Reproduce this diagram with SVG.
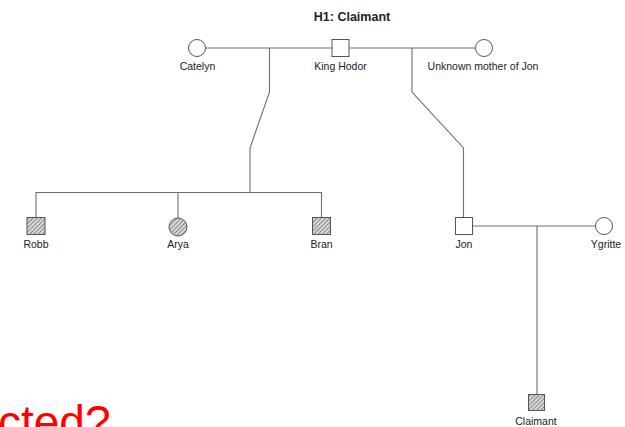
<svg xmlns="http://www.w3.org/2000/svg" width="625" height="427" viewBox="0 0 625 427">
<defs>
<pattern id="hatch" patternUnits="userSpaceOnUse" width="3" height="3" patternTransform="rotate(45)">
<rect width="3" height="3" fill="#d8d8d8"/>
<line x1="0" y1="0" x2="0" y2="3" stroke="#555" stroke-width="1.2"/>
</pattern>
</defs>
<style>
.ln{fill:none;stroke:#6e6e6e;stroke-width:1.1}
.nd{fill:#fff;stroke:#555;stroke-width:1}
.af{fill:url(#hatch);stroke:#555;stroke-width:1}
.lb{font-family:"Liberation Sans",Arial,sans-serif;font-size:10.5px;fill:#222;text-anchor:middle}
.tt{font-family:"Liberation Sans",Arial,sans-serif;font-size:12.5px;font-weight:bold;fill:#222;text-anchor:middle}
</style>
<rect width="625" height="427" fill="#fff"/>
<text class="tt" x="352" y="21">H1: Claimant</text>
<g id="connectors">
<path class="ln" d="M205,48 H332 M349,48 H476"/>
<path class="ln" d="M269.5,48 V92 L250,148 V192.5"/>
<path class="ln" d="M36,217 V192.5 H321.5 V217 M178,192.5 V218"/>
<path class="ln" d="M412,48 V92 L463.5,148 V217"/>
<path class="ln" d="M473,226 H595 M537,226 V394"/>
</g>
<g id="catelyn"><circle class="nd" cx="197" cy="48" r="8.5"/><text class="lb" x="197.5" y="70">Catelyn</text></g>
<g id="king-hodor"><rect class="nd" x="332" y="39.5" width="17" height="17"/><text class="lb" x="340.5" y="70">King Hodor</text></g>
<g id="unknown-mother"><circle class="nd" cx="484" cy="48" r="8.5"/><text class="lb" x="483" y="70">Unknown mother of Jon</text></g>
<g id="robb"><rect class="af" x="27" y="217.5" width="18" height="17"/><text class="lb" x="36" y="248">Robb</text></g>
<g id="arya"><circle class="af" cx="178" cy="227" r="9"/><text class="lb" x="178" y="248">Arya</text></g>
<g id="bran"><rect class="af" x="312.5" y="217.5" width="18" height="17"/><text class="lb" x="321.5" y="248">Bran</text></g>
<g id="jon"><rect class="nd" x="455.5" y="217.5" width="17" height="17"/><text class="lb" x="464" y="248">Jon</text></g>
<g id="ygritte"><circle class="nd" cx="604" cy="226" r="8.5"/><text class="lb" x="606" y="248">Ygritte</text></g>
<g id="claimant"><rect class="af" x="528.5" y="394.5" width="16" height="16"/><text class="lb" x="536" y="425">Claimant</text></g>
<text x="-2" y="438" font-family="Liberation Sans,Arial,sans-serif" font-size="46" fill="#ff0000">cted?</text>
</svg>
